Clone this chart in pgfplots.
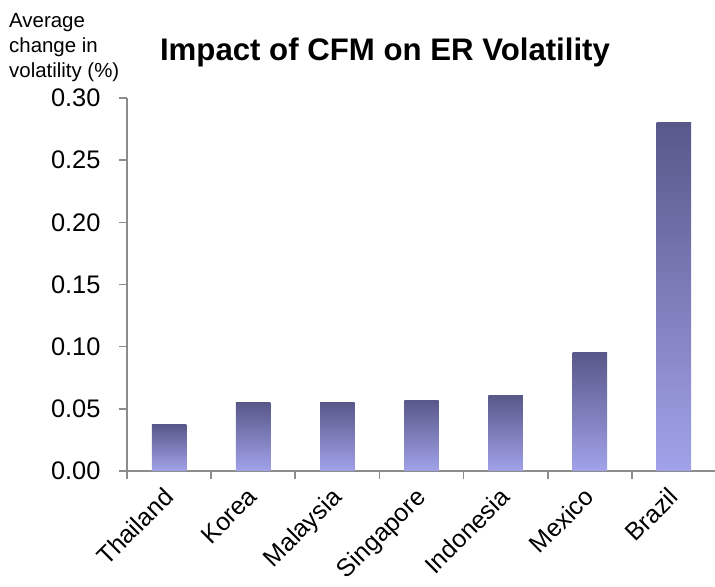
\documentclass[border=0pt]{standalone}
\usepackage{fontspec}
\setmainfont{Liberation Sans}
\usepackage{pgfplots}
\pgfplotsset{compat=1.18}
\definecolor{bartop}{RGB}{88,88,138}
\definecolor{barbot}{RGB}{162,162,234}
\definecolor{axisgray}{RGB}{140,140,140}
\pgfplotsset{gbar/.style={ybar, bar width=0.41, bar shift=0pt, draw=none, top color=bartop, bottom color=barbot, forget plot}}
\begin{document}
\begin{tikzpicture}[x=1bp,y=1bp]
\begin{axis}[
  at={(127bp,116bp)}, anchor=south west,
  scale only axis, width=589bp, height=373bp,
  xmin=-0.5, xmax=6.5, ymin=0, ymax=0.30,
  axis lines*=left,
  axis line style={draw=axisgray, line width=1.6bp},
  tick style={draw=axisgray, line width=1.6bp},
  tick align=outside,
  major tick length=8bp,
  xtick={-0.5,0.5,...,6.5},
  xticklabels={},
  extra x ticks={0,1,2,3,4,5,6},
  extra x tick labels={Thailand,Korea,Malaysia,Singapore,Indonesia,Mexico,Brazil},
  extra x tick style={major tick length=0pt, xticklabel style={xshift=-7bp, yshift=-12bp, rotate=45, anchor=north east, inner sep=2bp, font=\fontsize{25}{30}\selectfont}},
  ytick={0,0.05,...,0.30},
  /pgf/number format/fixed, /pgf/number format/fixed zerofill, /pgf/number format/precision=2,
  /pgf/number format/assume math mode=true,
  ticklabel style={font=\fontsize{25.5}{30}\selectfont},
  yticklabel style={xshift=-15bp},
  clip=false,
]
\addplot[gbar] coordinates {(0,0.037)};
\addplot[gbar] coordinates {(1,0.055)};
\addplot[gbar] coordinates {(2,0.055)};
\addplot[gbar] coordinates {(3,0.057)};
\addplot[gbar] coordinates {(4,0.061)};
\addplot[gbar] coordinates {(5,0.095)};
\addplot[gbar] coordinates {(6,0.280)};
\end{axis}
\node[font=\bfseries\fontsize{31.3}{36}\selectfont] at (385bp,535bp) {Impact of CFM on ER Volatility};
\begin{scope}[every node/.style={anchor=base west, inner sep=0pt, font=\fontsize{20.5}{25}\selectfont}]
\node at (9bp,559bp) {Average};
\node at (9bp,534bp) {change in};
\node at (9bp,509bp) {volatility (\%)};
\end{scope}
\pgfresetboundingbox
\path[use as bounding box] (0,0) rectangle (715bp,587bp);
\end{tikzpicture}
\end{document}
